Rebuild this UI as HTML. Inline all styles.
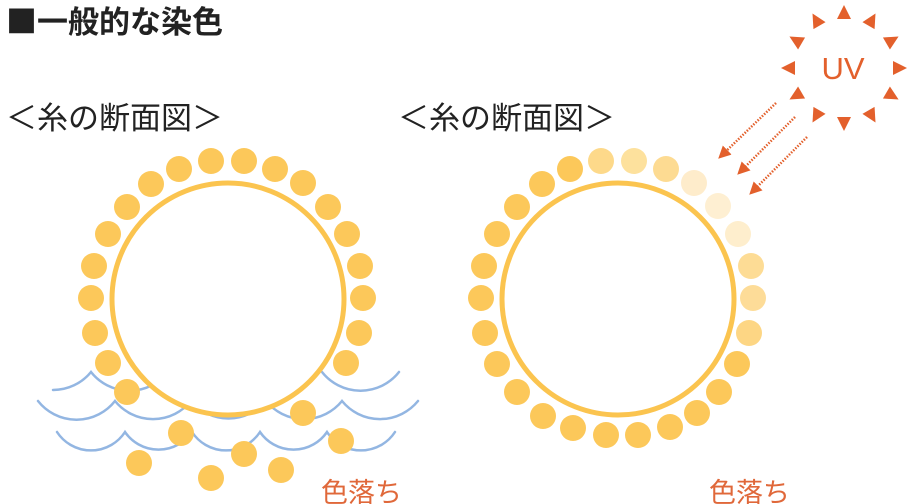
<!DOCTYPE html>
<html><head><meta charset="utf-8"><style>
html,body{margin:0;padding:0;background:#fff;width:918px;height:504px;overflow:hidden}
svg{display:block}
</style></head><body>
<svg width="918" height="504" viewBox="0 0 918 504" xmlns="http://www.w3.org/2000/svg">
<defs>
<marker id="ah" viewBox="0 0 10 10" refX="8" refY="5" markerWidth="5" markerHeight="5" orient="auto"><path d="M0,0 L10,5 L0,10 z" fill="#e3602c"/></marker>
</defs>
<text x="6" y="33" font-family="'Noto Sans CJK JP',sans-serif" font-size="31" font-weight="bold" fill="#222">■一般的な染色</text>
<text x="6" y="129" font-family="'Liberation Sans','Noto Sans CJK JP',sans-serif" font-size="31" fill="#222">＜糸の断面図＞</text>
<text x="398" y="129" font-family="'Liberation Sans','Noto Sans CJK JP',sans-serif" font-size="31" fill="#222">＜糸の断面図＞</text>

<g fill="none" stroke="#93b6e2" stroke-width="2.5" stroke-linecap="round">
<path d="M53,390 A49,49 0 0 0 91,372 A49,49 0 0 0 168,372 A49,49 0 0 0 245,372 M322,372 A49,49 0 0 0 399,372"/>
<path d="M38,401 A49,49 0 0 0 115,401 A49,49 0 0 0 191,401 A49,49 0 0 0 266,401 A49,49 0 0 0 342,401 A49,49 0 0 0 418,401"/>
<path d="M57,432 A40.6,40.6 0 0 0 125,432 A40.6,40.6 0 0 0 192,432 A40.6,40.6 0 0 0 260,432 A40.6,40.6 0 0 0 327,432 A40.6,40.6 0 0 0 395,432"/>
</g>

<circle cx="228" cy="299" r="116" fill="#fff" stroke="#fbc44f" stroke-width="5"/>
<g fill="#fcc85a">
<circle cx="211" cy="161" r="13"/><circle cx="244" cy="161" r="13"/><circle cx="275" cy="169" r="13"/><circle cx="303" cy="183" r="13"/><circle cx="328" cy="207" r="13"/><circle cx="347" cy="234" r="13"/><circle cx="360" cy="266" r="13"/><circle cx="363" cy="298" r="13"/><circle cx="359" cy="333" r="13"/><circle cx="346" cy="363" r="13"/>
<circle cx="179" cy="169" r="13"/><circle cx="151" cy="184" r="13"/><circle cx="127" cy="207" r="13"/><circle cx="108" cy="234" r="13"/><circle cx="94" cy="266" r="13"/><circle cx="91" cy="298" r="13"/><circle cx="95" cy="333" r="13"/><circle cx="108" cy="363" r="13"/>
<circle cx="127" cy="392" r="13"/><circle cx="181" cy="433" r="13"/><circle cx="139" cy="463" r="13"/><circle cx="211" cy="478" r="13"/><circle cx="244" cy="454" r="13"/><circle cx="281" cy="470" r="13"/><circle cx="303" cy="413" r="13"/><circle cx="341" cy="441" r="13"/>
</g>

<circle cx="618" cy="299" r="116" fill="none" stroke="#fbc44f" stroke-width="5"/>
<g>
<circle cx="601" cy="161" r="13" fill="#fdd98a"/><circle cx="634" cy="161" r="13" fill="#fde19d"/><circle cx="666" cy="169" r="13" fill="#fddb92"/><circle cx="694" cy="183" r="13" fill="#feeccb"/><circle cx="718" cy="206" r="13" fill="#feefd2"/><circle cx="738" cy="234" r="13" fill="#feeecd"/><circle cx="751" cy="266" r="13" fill="#fddc95"/><circle cx="753" cy="298" r="13" fill="#fddc98"/><circle cx="749" cy="333" r="13" fill="#fdd684"/>
<g fill="#fcc85a">
<circle cx="737" cy="364" r="13"/><circle cx="719" cy="392" r="13"/><circle cx="697" cy="413" r="13"/><circle cx="670" cy="427" r="13"/><circle cx="638" cy="435" r="13"/><circle cx="606" cy="435" r="13"/><circle cx="573" cy="428" r="13"/><circle cx="543" cy="416" r="13"/><circle cx="517" cy="392" r="13"/><circle cx="497" cy="364" r="13"/><circle cx="485" cy="333" r="13"/><circle cx="481" cy="298" r="13"/><circle cx="484" cy="266" r="13"/><circle cx="497" cy="234" r="13"/><circle cx="517" cy="207" r="13"/><circle cx="542" cy="184" r="13"/><circle cx="570" cy="169" r="13"/>
</g></g>

<g stroke="#e3602c" stroke-width="2.5" stroke-dasharray="1.5 1.5" fill="none" marker-end="url(#ah)">
<line x1="776" y1="103" x2="720" y2="157"/>
<line x1="795" y1="117" x2="739" y2="173"/>
<line x1="807" y1="137" x2="751" y2="193"/>
</g>

<g fill="#e3602c" transform="translate(844,68)">
<polygon points="-7,-49 7,-49 0,-63" transform="rotate(0)"/>
<polygon points="-7,-49 7,-49 0,-63" transform="rotate(30)"/>
<polygon points="-7,-49 7,-49 0,-63" transform="rotate(60)"/>
<polygon points="-7,-49 7,-49 0,-63" transform="rotate(90)"/>
<polygon points="-7,-49 7,-49 0,-63" transform="rotate(120)"/>
<polygon points="-7,-49 7,-49 0,-63" transform="rotate(150)"/>
<polygon points="-7,-49 7,-49 0,-63" transform="rotate(180)"/>
<polygon points="-7,-49 7,-49 0,-63" transform="rotate(210)"/>
<polygon points="-7,-49 7,-49 0,-63" transform="rotate(240)"/>
<polygon points="-7,-49 7,-49 0,-63" transform="rotate(270)"/>
<polygon points="-7,-49 7,-49 0,-63" transform="rotate(300)"/>
<polygon points="-7,-49 7,-49 0,-63" transform="rotate(330)"/>
</g>
<text x="843" y="79" text-anchor="middle" font-family="'Liberation Sans',sans-serif" font-size="31" fill="#e3602c">UV</text>

<text x="321" y="502" font-family="'Liberation Sans','Noto Sans CJK JP',sans-serif" font-size="27" fill="#e0683a">色落ち</text>
<text x="709" y="502" font-family="'Liberation Sans','Noto Sans CJK JP',sans-serif" font-size="27" fill="#e0683a">色落ち</text>
</svg>
</body></html>
